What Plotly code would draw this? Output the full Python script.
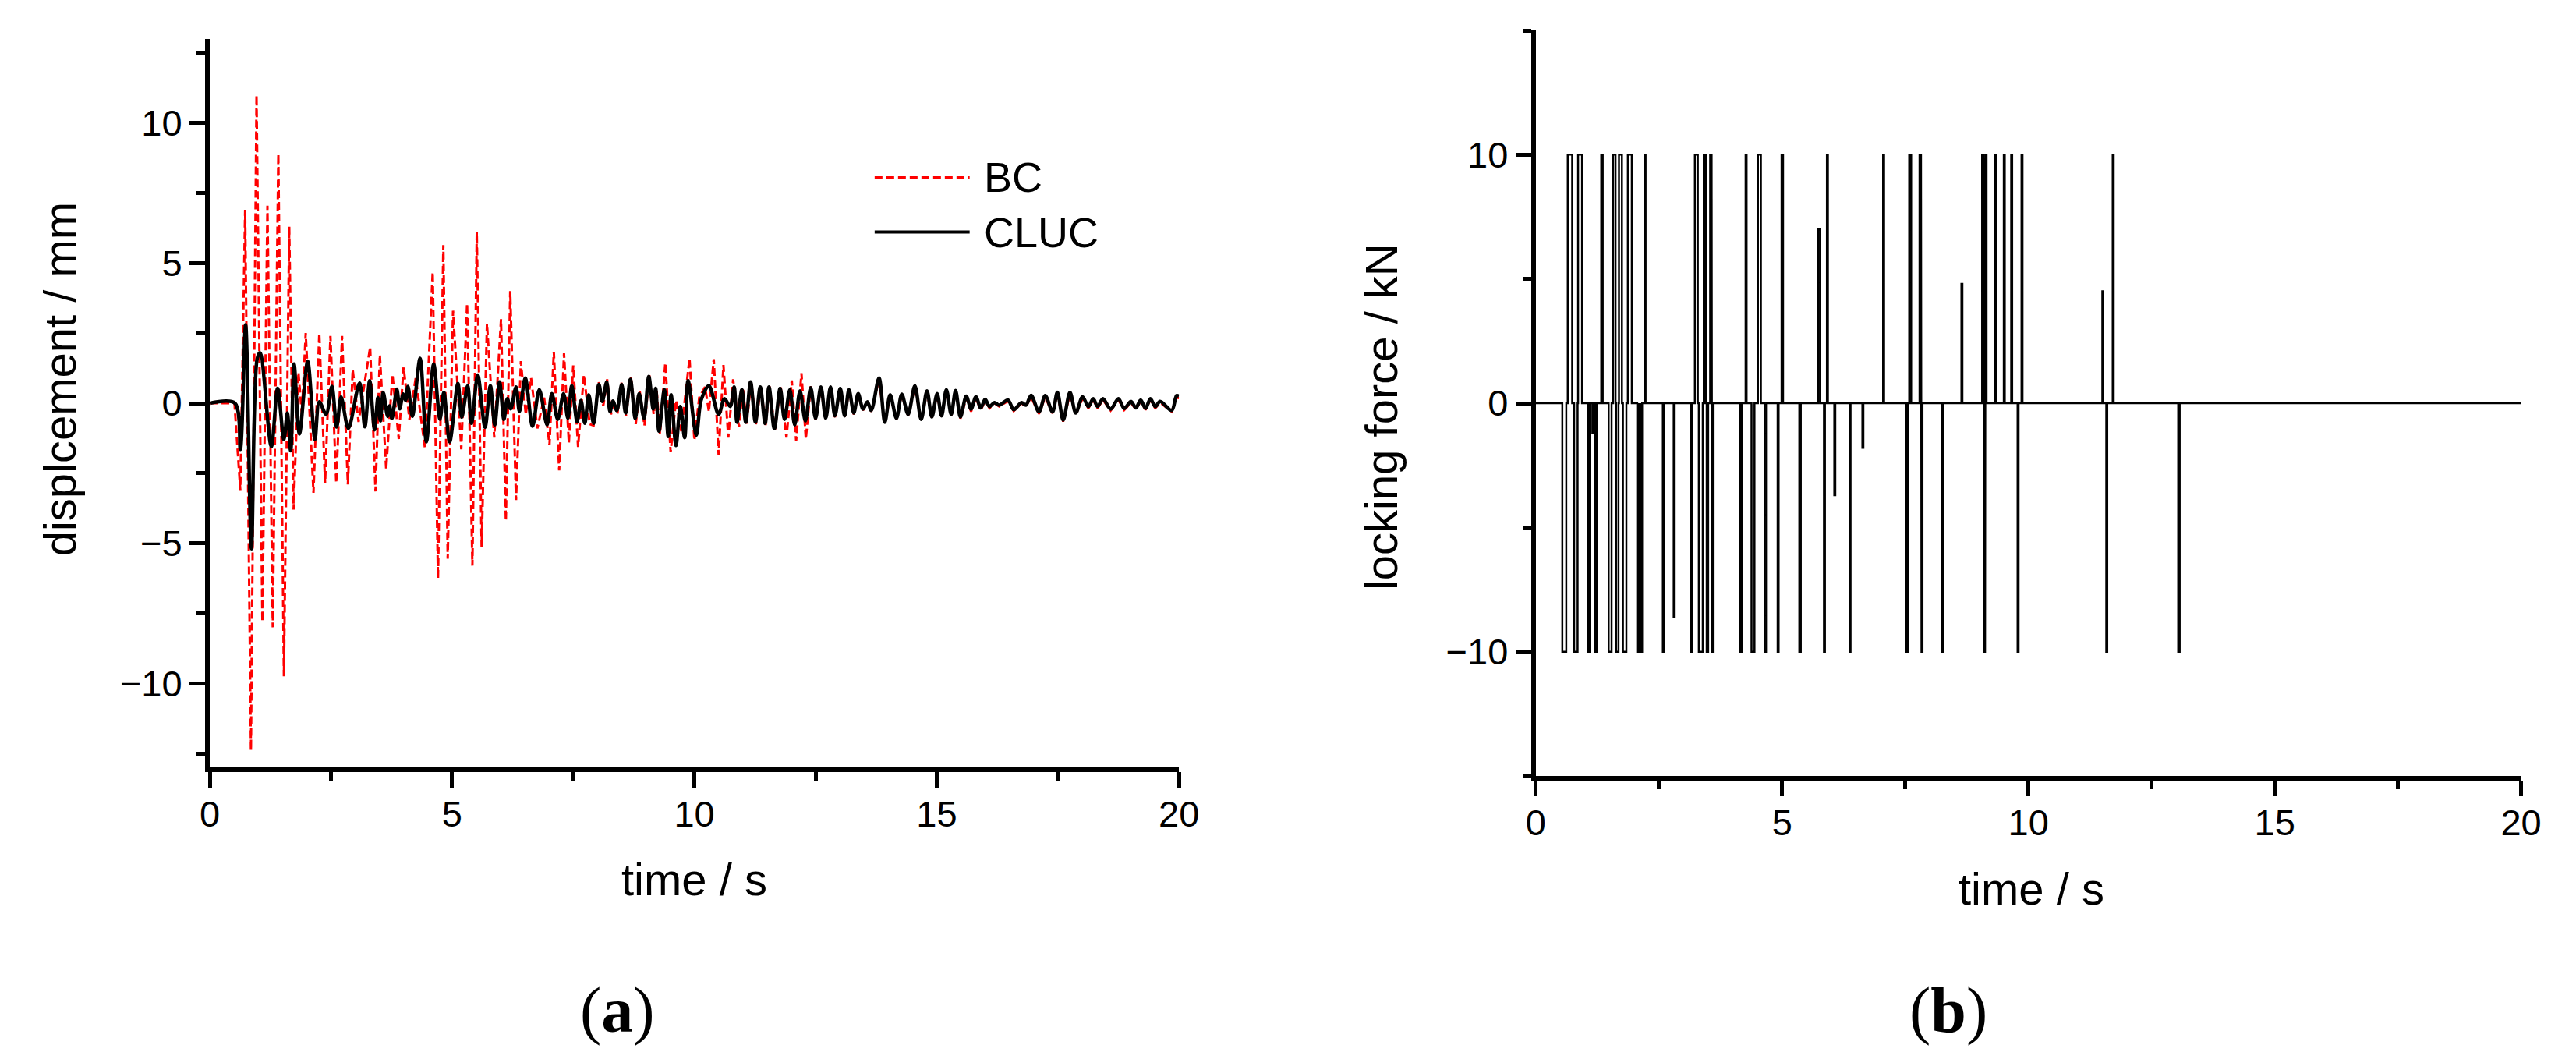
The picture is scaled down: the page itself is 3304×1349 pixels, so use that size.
import plotly.graph_objects as go

# ---------------- data: panel (a) displacement (extrema) ----------------
bc_time = [0, 0.51, 0.63, 0.73, 0.85, 0.965, 1.086, 1.19, 1.30, 1.415, 1.53, 1.64, 1.73, 1.83, 1.90,
           1.98, 2.14, 2.26, 2.38, 2.49, 2.61, 2.73, 2.85, 2.95, 3.07, 3.31, 3.42, 3.51, 3.64, 3.77,
           3.90, 4.00, 4.12, 4.25, 4.44, 4.60, 4.71, 4.82, 4.91, 5.02, 5.19, 5.31, 5.42, 5.51, 5.61,
           5.72, 5.87, 6.01, 6.11, 6.20, 6.32, 6.42, 6.52, 6.63, 6.76, 6.90, 7.01, 7.10, 7.21, 7.31,
           7.41, 7.50, 7.60, 7.72, 7.84, 7.92, 8.03, 8.12, 8.20, 8.28, 8.34, 8.41, 8.50, 8.59, 8.69,
           8.79, 8.87, 8.97, 9.07, 9.16, 9.22, 9.29, 9.40, 9.51, 9.62, 9.73, 9.90, 10.00, 10.10, 10.22,
           10.30, 10.40, 10.50, 10.60, 10.70, 10.80, 10.92, 11.00, 11.08, 11.17, 11.27, 11.37, 11.47,
           11.55, 11.66, 11.78, 11.90, 12.01, 12.10, 12.21, 12.30, 12.40, 12.50, 12.61, 12.71, 12.81,
           12.90, 13.01, 13.10, 13.19, 13.29, 13.38, 13.48, 13.57, 13.65, 13.81, 13.93, 14.04, 14.17,
           14.28, 14.41, 14.55, 14.68, 14.80, 14.90, 15.01, 15.10, 15.20, 15.30, 15.39, 15.49, 15.61,
           15.71, 15.81, 15.91, 16.00, 16.09, 16.19, 16.29, 16.47, 16.59, 16.75, 16.84, 16.95, 17.11,
           17.24, 17.39, 17.49, 17.61, 17.75, 17.87, 18.01, 18.13, 18.23, 18.32, 18.43, 18.59, 18.75,
           18.87, 19.01, 19.11, 19.21, 19.31, 19.41, 19.51, 19.61, 19.85, 19.95, 20.0]
bc_disp = [0, 0, -3.1, 6.9, -12.4, 11.0, -7.8, 7.05, -8.0, 8.9, -9.75, 6.3, -3.8, 1.1, -0.4,
           2.5, -3.2, 2.5, -2.85, 2.4, -2.85, 2.4, -2.9, 1.2, -0.67, 2.0, -3.15, 1.73, -2.35, 1.03,
           -1.28, 1.3, -0.58, 0.9, -1.6, 4.68, -6.25, 5.64, -5.55, 3.3, -1.65, 3.55, -5.8, 6.1, -5.13,
           2.85, -1.23, 3.0, -4.2, 4.0, -3.46, 1.5, -0.4, 0.9, -0.9, 0.2, -1.5, 1.83, -2.4, 1.78,
           -1.42, 1.35, -1.56, 1.01, -0.75, -0.8, 0.75, -0.1, 0.85, -0.4, 0.1, -0.4, 0.75, -0.45, 0.95,
           -0.75, 0.45, -0.8, 1.0, -0.4, 0.5, -1.1, 1.44, -1.75, 0.1, -1.0, 1.6, -1.33, 0.2, 0.58,
           -0.3, 1.57, -1.84, 1.36, -1.23, 0.85, -0.86, 0.55, -0.75, 0.8, -0.75, 0.62, -0.78,
           0.6, -0.95, 0.6, -1.23, 0.81, -1.33, 1.07, -1.28, 0.6, -0.6, 0.55, -0.6, 0.55,
           -0.5, 0.5, -0.5, 0.45, -0.4, 0.3, -0.25, 0.05, -0.3, 0.85, -0.72, 0.28, -0.58,
           0.3, -0.45, 0.58, -0.62, 0.4, -0.52, 0.3, -0.48, 0.45, -0.45, 0.4, -0.55, 0.2,
           -0.3, 0.18, -0.25, 0.1, -0.18, 0.0, -0.12, 0.08, -0.28, 0.0, -0.12, 0.22, -0.38,
           0.22, -0.36, 0.33, -0.66, 0.33, -0.42, 0.18, -0.18, 0.12, -0.18, 0.12, -0.26, 0.12,
           -0.24, 0.02, -0.22, 0.08, -0.24, 0.12, -0.18, 0.02, -0.3, 0.2, 0.18]

cluc_time = [0, 0.52, 0.63, 0.74, 0.86, 0.98, 1.04, 1.27, 1.40, 1.53, 1.60, 1.67, 1.74, 1.85, 2.02,
             2.17, 2.26, 2.40, 2.52, 2.62, 2.71, 2.86, 3.09, 3.20, 3.30, 3.40, 3.47, 3.52, 3.58, 3.67,
             3.71, 3.76, 3.86, 3.92, 3.99, 4.04, 4.09, 4.18, 4.34, 4.47, 4.62, 4.75, 4.83, 4.95, 5.12,
             5.20, 5.32, 5.40, 5.53, 5.68, 5.79, 5.88, 5.98, 6.07, 6.14, 6.21, 6.32, 6.39, 6.51, 6.66,
             6.80, 6.96, 7.06, 7.18, 7.30, 7.39, 7.47, 7.58, 7.66, 7.74, 7.82, 7.92, 8.03, 8.10, 8.19,
             8.26, 8.32, 8.40, 8.50, 8.58, 8.68, 8.78, 8.86, 8.96, 9.06, 9.15, 9.20, 9.27, 9.38, 9.46,
             9.52, 9.62, 9.71, 9.80, 9.87, 10.04, 10.14, 10.30, 10.50, 10.62, 10.74, 10.82, 10.88,
             10.98, 11.06, 11.16, 11.26, 11.36, 11.46, 11.54, 11.65, 11.77, 11.86, 11.97, 12.07, 12.18,
             12.29, 12.40, 12.50, 12.61, 12.71, 12.81, 12.90, 13.01, 13.10, 13.19, 13.29, 13.38, 13.48,
             13.57, 13.65, 13.81, 13.93, 14.04, 14.17, 14.28, 14.41, 14.55, 14.68, 14.80, 14.90, 15.01,
             15.10, 15.20, 15.30, 15.39, 15.49, 15.61, 15.71, 15.81, 15.91, 16.00, 16.09, 16.19, 16.29,
             16.47, 16.59, 16.75, 16.84, 16.95, 17.11, 17.24, 17.39, 17.49, 17.61, 17.75, 17.87, 18.01,
             18.13, 18.23, 18.32, 18.43, 18.59, 18.75, 18.87, 19.01, 19.11, 19.21, 19.31, 19.41, 19.51,
             19.61, 19.85, 19.95, 20.0]
cluc_disp = [0, 0, -1.65, 2.8, -5.2, 1.6, 1.8, -1.55, 0.53, -1.3, -0.35, -1.7, 1.4, -1.1, 1.5,
             -1.3, 0.05, -0.4, 0.6, -0.85, 0.22, -0.9, 0.72, -0.84, 0.8, -0.95, 0.2, -0.63, 0.38, -0.47,
             -0.1, -0.55, 0.5, -0.2, 0.33, 0.1, 0.6, -0.47, 1.6, -1.38, 1.4, -0.57, 0.39, -1.38, 0.7,
             -0.5, 0.62, -0.72, 1.0, -0.86, 0.62, -0.77, 0.76, -0.58, 0.16, -0.2, 0.58, -0.3, 0.9, -0.82,
             0.48, -0.77, 0.34, -0.58, 0.34, -0.54, 0.62, -0.66, 0.1, -0.72, 0.3, -0.72, 0.67, 0.06, 0.76,
             -0.31, 0.08, -0.26, 0.67, -0.35, 0.85, -0.54, 0.34, -0.54, 0.95, -0.21, 0.53, -1.0, 0.48, -1.19,
             0.3, -1.51, -0.12, -1.23, 0.81, -1.14, 0.11, 0.62, -0.4, 0.16, -0.12, 0.58, -0.68,
             0.48, -0.68, 0.76, -0.68, 0.58, -0.72, 0.58, -0.91, 0.53, -0.58, 0.48, -0.77, 0.44,
             -0.63, 0.55, -0.54, 0.58, -0.54, 0.58, -0.45, 0.53, -0.45, 0.48, -0.35, 0.34, -0.21,
             0.05, -0.26, 0.9, -0.68, 0.3, -0.54, 0.32, -0.4, 0.62, -0.58, 0.44, -0.49, 0.34,
             -0.45, 0.48, -0.4, 0.45, -0.49, 0.25, -0.21, 0.23, -0.17, 0.14, -0.12, 0.02, -0.07,
             0.11, -0.23, 0.02, -0.07, 0.28, -0.31, 0.27, -0.31, 0.39, -0.6, 0.39, -0.35, 0.23,
             -0.12, 0.16, -0.12, 0.16, -0.21, 0.16, -0.19, 0.06, -0.17, 0.11, -0.19, 0.16, -0.12,
             0.06, -0.26, 0.27, 0.25]

# ---------------- data: panel (b) locking force spikes ----------------
spike_start = [0.54, 0.65, 0.78, 0.86, 1.06, 1.15, 1.21, 1.33, 1.48, 1.57, 1.63, 1.69, 1.77, 1.87,
               2.06, 2.09, 2.13, 2.21, 2.58, 2.80, 3.15, 3.23, 3.31, 3.41, 3.47, 3.54, 3.58, 4.15,
               4.26, 4.38, 4.51, 4.65, 4.91, 4.99, 5.35, 5.73, 5.85, 5.91, 6.06, 6.37, 6.63, 7.05,
               7.52, 7.58, 7.79, 7.83, 8.25, 8.64, 9.06, 9.10, 9.13, 9.32, 9.50, 9.65, 9.78, 9.86,
               11.50, 11.58, 11.71, 13.04]
spike_end = [0.62, 0.74, 0.85, 0.94, 1.10, 1.17, 1.25, 1.36, 1.54, 1.62, 1.68, 1.75, 1.84, 1.95,
             2.09, 2.13, 2.16, 2.23, 2.61, 2.82, 3.18, 3.29, 3.39, 3.45, 3.50, 3.57, 3.61, 4.18,
             4.28, 4.44, 4.57, 4.69, 4.93, 5.02, 5.38, 5.77, 5.87, 5.93, 6.08, 6.39, 6.65, 7.07,
             7.55, 7.62, 7.82, 7.85, 8.27, 8.66, 9.09, 9.12, 9.15, 9.35, 9.52, 9.67, 9.80, 9.88,
             11.52, 11.60, 11.73, 13.07]
spike_force = [-10, 10, -10, 10, -10, -1.2, -10, 10, -10, 10, -10, 10, -10, 10,
               -10, -4.5, -10, 10, -10, -8.6, -10, 10, -10, 10, -10, 10, -10, -10,
               10, -10, 10, -10, -10, 10, -10, 7.0, -10, 10, -3.7, -10, -1.8, 10,
               -10, 10, 10, -10, -10, 4.8, 10, -10, 10, 10, 10, 10, -10, 10,
               4.5, -10, 10, -10]
time_end = 20.0

force_t, force_v = [0.0], [0.0]
for s, e, f in zip(spike_start, spike_end, spike_force):
    force_t += [s, s, e, e]
    force_v += [0.0, f, f, 0.0]
force_t.append(time_end)
force_v.append(0.0)

# ---------------- figure ----------------
FONT = "Liberation Sans, Arial, sans-serif"
W, H = 3304, 1349

fig = go.Figure()
fig.add_trace(go.Scatter(x=bc_time, y=bc_disp, mode="lines", name="BC",
                         line=dict(color="#ff0000", width=3, dash="10px,5px"),
                         xaxis="x", yaxis="y", showlegend=False))
fig.add_trace(go.Scatter(x=cluc_time, y=cluc_disp, mode="lines", name="CLUC",
                         line=dict(color="black", width=4.5, shape="spline", smoothing=0.9),
                         xaxis="x", yaxis="y", showlegend=False))
fig.add_trace(go.Scatter(x=force_t, y=force_v, mode="lines", name="locking force",
                         line=dict(color="black", width=2.5),
                         xaxis="x2", yaxis="y2", showlegend=False))

tickfont = dict(family=FONT, size=47, color="black")
titlefont = dict(family=FONT, size=58, color="black")

def xax(domain, anchor):
    return dict(domain=domain, anchor=anchor, range=[0, 20], dtick=5, tick0=0,
                showline=True, linewidth=6, linecolor="black", mirror=False,
                ticks="outside", ticklen=20, tickwidth=5, tickcolor="black",
                minor=dict(dtick=2.5, tick0=0, ticks="outside", ticklen=11, tickwidth=5, tickcolor="black"),
                showgrid=False, zeroline=False, tickfont=tickfont, ticklabelstandoff=-6)

def yax(domain, anchor, rng, major_dtick, minor_dtick):
    return dict(domain=domain, anchor=anchor, range=rng, dtick=major_dtick, tick0=0,
                showline=True, linewidth=6, linecolor="black", mirror=False,
                ticks="outside", ticklen=20, tickwidth=5, tickcolor="black",
                minor=dict(dtick=minor_dtick, tick0=0, ticks="outside", ticklen=11, tickwidth=5, tickcolor="black"),
                showgrid=False, zeroline=False, tickfont=tickfont)

fig.update_layout(
    width=W, height=H,
    margin=dict(l=0, r=0, t=0, b=0),
    paper_bgcolor="white", plot_bgcolor="white",
    showlegend=False,
    xaxis=xax([251 / W, 1509 / W], "y"),
    yaxis=yax([1 - 976 / H, 1 - 42 / H], "x", [-13, 13], 5, 2.5),
    xaxis2=xax([1972 / W, 3251 / W], "y2"),
    yaxis2=yax([1 - 987 / H, 1 - 31 / H], "x2", [-15, 15], 10, 5),
)

# axis titles (placed as in the reference)
for txt, px, py, ang in [("displcement / mm", 56, 478, -90),
                         ("locking force / kN", 1772, 527, -90),
                         ("time / s", 880, 1119, 0),
                         ("time / s", 2615, 1131, 0)]:
    fig.add_annotation(text=txt, xref="paper", yref="paper", x=px / W, y=1 - py / H,
                       xanchor="center", yanchor="middle", textangle=ang, showarrow=False,
                       font=titlefont)

# custom legend for panel (a)
fig.add_shape(type="line", xref="x domain", yref="y domain", x0=0.686, x1=0.784, y0=0.81, y1=0.81,
              line=dict(color="#ff0000", width=3, dash="10px,5px"))
fig.add_shape(type="line", xref="x domain", yref="y domain", x0=0.686, x1=0.784, y0=0.735, y1=0.735,
              line=dict(color="black", width=4))
fig.add_annotation(text="BC", xref="x domain", yref="y domain", x=0.797, y=0.81, xanchor="left",
                   yanchor="middle", showarrow=False, font=dict(family=FONT, size=54, color="black"))
fig.add_annotation(text="CLUC", xref="x domain", yref="y domain", x=0.797, y=0.735, xanchor="left",
                   yanchor="middle", showarrow=False, font=dict(family=FONT, size=54, color="black"))

# panel labels
serif = "Liberation Serif, Times New Roman, serif"
fig.add_annotation(text="(<b>a</b>)", xref="paper", yref="paper", x=780 / W, y=1 - 1287 / H,
                   xanchor="center", yanchor="middle", showarrow=False,
                   font=dict(family=serif, size=82, color="black"))
fig.add_annotation(text="(<b>b</b>)", xref="paper", yref="paper", x=2508 / W, y=1 - 1287 / H,
                   xanchor="center", yanchor="middle", showarrow=False,
                   font=dict(family=serif, size=82, color="black"))

fig.write_html("out.html")
